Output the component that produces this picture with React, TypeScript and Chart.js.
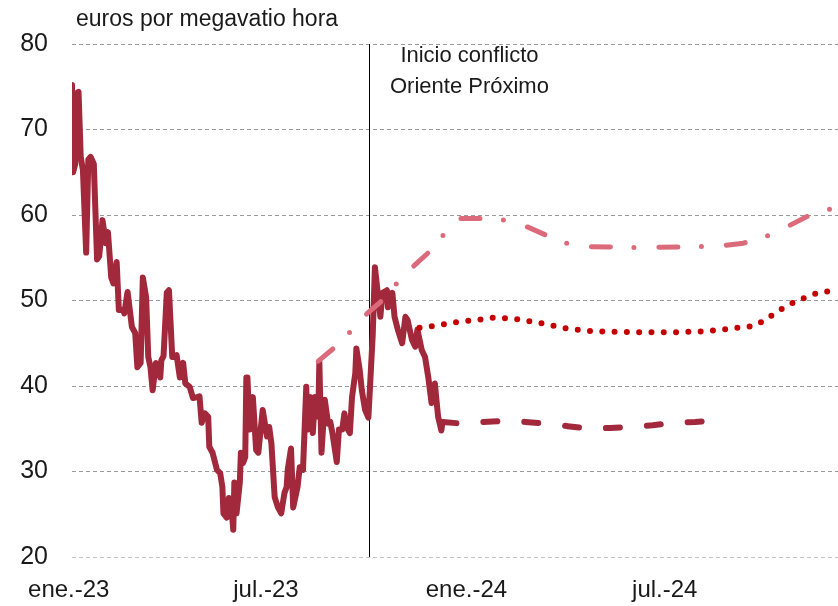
import React, { useEffect, useRef } from "react";
import { Chart, registerables } from "chart.js";

Chart.register(...registerables);

// x values are days since 1 Jan 2023
const xTickDays = [0, 181, 365, 547];
const xTickLabels = ["ene.-23", "jul.-23", "ene.-24", "jul.-24"];
const yTickValues = [20, 30, 40, 50, 60, 70, 80];
const conflictDay = 276;
const unitLabel = "euros por megavatio hora";
const conflictLabel = ["Inicio conflicto", "Oriente Próximo"];

const mainDays = [
  3, 4, 6, 7, 9, 11, 13, 16, 18, 20, 23, 26, 28, 31, 34, 36, 39, 41, 44, 46, 50, 51, 54, 58, 61, 63, 66, 68, 71, 73,
  75, 77, 80, 84, 85, 87, 90, 92, 95, 97, 99, 102, 105, 107, 111, 114, 118, 120, 122, 125, 128, 129, 132, 136, 139,
  141, 142, 145, 147, 149, 151, 152, 154, 157, 158, 160, 162, 163, 164, 166, 169, 172, 174, 178, 182, 184, 186, 189,
  192, 195, 198, 200, 201, 204, 206, 208, 210, 212, 215, 218, 219, 222, 224, 226, 229, 230, 232, 235, 238, 240, 242,
  246, 248, 251, 253, 255, 258, 260, 263, 264, 267, 269, 272, 275, 276, 279, 281, 284, 286, 288, 292, 293, 297, 299,
  302, 306, 309, 311, 315, 318, 320, 324, 327, 330, 333, 336, 339, 342, 343,
];
const mainValues = [
  75.2, 65.0, 66.0, 74.2, 74.4, 66.8, 65.3, 55.6, 66.5, 66.8, 66.0, 54.8, 55.2, 59.4, 56.7, 58.0, 52.7, 52.0, 54.5,
  48.9, 48.9, 48.5, 51.0, 46.9, 46.2, 42.2, 42.7, 52.7, 50.4, 43.4, 42.2, 39.5, 42.7, 41.0, 43.0, 43.5, 50.9, 51.2,
  43.4, 43.4, 43.6, 41.0, 42.7, 40.3, 39.9, 38.6, 38.7, 38.8, 35.7, 36.8, 36.4, 32.9, 32.2, 30.2, 29.8, 28.2, 25.1,
  24.6, 26.9, 26.3, 23.2, 28.7, 25.1, 28.7, 32.2, 31.0, 31.7, 41.0, 41.0, 34.9, 38.7, 32.5, 32.2, 37.2, 34.1, 35.2,
  33.3, 27.0, 25.8, 25.1, 27.5, 28.2, 30.2, 32.7, 25.8, 27.0, 28.2, 30.5, 30.2, 39.9, 34.9, 38.7, 34.5, 38.7, 36.4,
  42.8, 32.2, 38.4, 35.6, 35.8, 34.5, 31.1, 34.9, 34.9, 36.8, 35.2, 34.5, 38.7, 41.5, 44.4, 41.9, 39.5, 37.2, 36.3,
  38.7, 46.0, 53.9, 50.4, 48.1, 50.9, 51.2, 49.2, 50.9, 48.1, 46.6, 45.0, 48.1, 47.7, 45.4, 44.6, 46.6, 44.2, 43.4,
  41.0, 38.0, 40.3, 36.4, 34.8, 35.8,
];

const dashedDays = [343, 361, 380, 399, 419, 439, 458, 477, 497, 517, 536, 555, 575, 595];
const dashedValues = [35.8, 35.6, 35.8, 35.9, 35.8, 35.6, 35.3, 35.0, 35.1, 35.2, 35.4, 35.7, 35.8, 36.0];

const dottedDays = [322, 334, 357, 379, 391, 413, 435, 458, 481, 515, 561, 584, 606, 628, 639, 648, 658, 669, 679, 690, 702];
const dottedValues = [46.8, 47.0, 47.5, 47.8, 48.0, 47.8, 47.3, 46.7, 46.4, 46.3, 46.3, 46.4, 46.7, 47.0, 47.7, 48.5, 49.3, 50.0, 50.5, 51.0, 51.1];

const dashDotDays = [229, 244, 258, 274, 286, 301, 318, 331, 344, 359, 379, 399, 421, 437, 457, 478, 518, 579, 600, 619, 640, 659, 677, 699];
const dashDotValues = [42.9, 44.5, 46.3, 48.5, 49.8, 52.0, 54.2, 55.7, 57.7, 59.6, 59.6, 59.4, 58.6, 57.7, 56.7, 56.3, 56.2, 56.3, 56.4, 56.7, 57.5, 58.6, 59.8, 60.7];

const FONT = "'Liberation Sans', Arial, Helvetica, sans-serif";
const TEXT = "#1a1a1a";

const toPoints = (xs: number[], ys: number[]) => xs.map((x, i) => ({ x, y: ys[i] }));

const overlayPlugin = {
  id: "overlay",
  beforeDatasetsDraw(chart: any) {
    const { ctx, chartArea, scales } = chart;
    const x = Math.round(scales.x.getPixelForValue(conflictDay)) + 0.5;
    ctx.save();
    ctx.strokeStyle = "#000";
    ctx.lineWidth = 1;
    ctx.beginPath();
    ctx.moveTo(x, chartArea.top);
    ctx.lineTo(x, chartArea.bottom);
    ctx.stroke();
    ctx.restore();
  },
  afterDraw(chart: any) {
    const { ctx, chartArea, scales } = chart;
    ctx.save();
    ctx.fillStyle = TEXT;
    ctx.textBaseline = "alphabetic";
    ctx.font = `23px ${FONT}`;
    ctx.textAlign = "left";
    ctx.fillText(unitLabel, chartArea.left + 4, 26);
    const x = scales.x.getPixelForValue(conflictDay) + 100;
    ctx.font = `22px ${FONT}`;
    ctx.textAlign = "center";
    ctx.fillText(conflictLabel[0], x, 62);
    ctx.fillText(conflictLabel[1], x, 93);
    ctx.restore();
  },
};

export default function App() {
  const ref = useRef<HTMLCanvasElement | null>(null);
  useEffect(() => {
    document.body.style.margin = "0";
    if (!ref.current) return;
    const chart = new Chart(ref.current, {
      type: "line",
      data: {
        datasets: [
          {
            data: toPoints(mainDays, mainValues),
            borderColor: "#a2283b",
            borderWidth: 6,
            borderJoinStyle: "round",
            borderCapStyle: "round",
            order: 4,
          },
          {
            data: toPoints(dashedDays, dashedValues),
            borderColor: "#a2283b",
            borderWidth: 6,
            borderDash: [14, 27],
            borderCapStyle: "round",
            order: 3,
          },
          {
            data: toPoints(dottedDays, dottedValues),
            borderColor: "#c40000",
            borderWidth: 6,
            borderDash: [0, 12.3],
            borderCapStyle: "round",
            order: 2,
          },
          {
            data: toPoints(dashDotDays, dashDotValues),
            borderColor: "#db6b7a",
            borderWidth: 5,
            borderDash: [19, 23.5, 0, 25],
            borderCapStyle: "round",
            order: 1,
          },
        ],
      },
      options: {
        animation: false,
        responsive: false,
        devicePixelRatio: 1,
        layout: { padding: { top: 44, right: 0, left: 0, bottom: 0 } },
        elements: { point: { radius: 0 }, line: { tension: 0 } },
        plugins: { legend: { display: false }, tooltip: { enabled: false }, title: { display: false } },
        scales: {
          x: {
            type: "linear",
            min: 3,
            max: 706,
            grid: { display: false, drawTicks: false },
            border: { display: false },
            afterBuildTicks: (scale: any) => {
              scale.ticks = xTickDays.map((v) => ({ value: v }));
            },
            afterFit: (scale: any) => {
              scale.height = 49;
            },
            ticks: {
              autoSkip: false,
              maxRotation: 0,
              padding: 19,
              color: TEXT,
              font: { family: FONT, size: 24 },
              callback: (v: any) => {
                const i = xTickDays.indexOf(Number(v));
                return i >= 0 ? xTickLabels[i] : "";
              },
            },
          },
          y: {
            min: 20,
            max: 80,
            afterBuildTicks: (scale: any) => {
              scale.ticks = yTickValues.map((v) => ({ value: v }));
            },
            afterFit: (scale: any) => {
              scale.width = 72;
            },
            grid: {
              drawTicks: false,
              color: (c: any) => (c.tick && c.tick.value === 20 ? "#c4c4c4" : "#9a9a9a"),
              lineWidth: 1,
            },
            border: { display: false, dash: [4, 3] },
            ticks: {
              padding: 24,
              color: TEXT,
              font: { family: FONT, size: 25 },
            },
          },
        },
      },
      plugins: [overlayPlugin],
    } as any);
    return () => chart.destroy();
  }, []);
  return <canvas ref={ref} width={838} height={606} style={{ display: "block" }} />;
}
